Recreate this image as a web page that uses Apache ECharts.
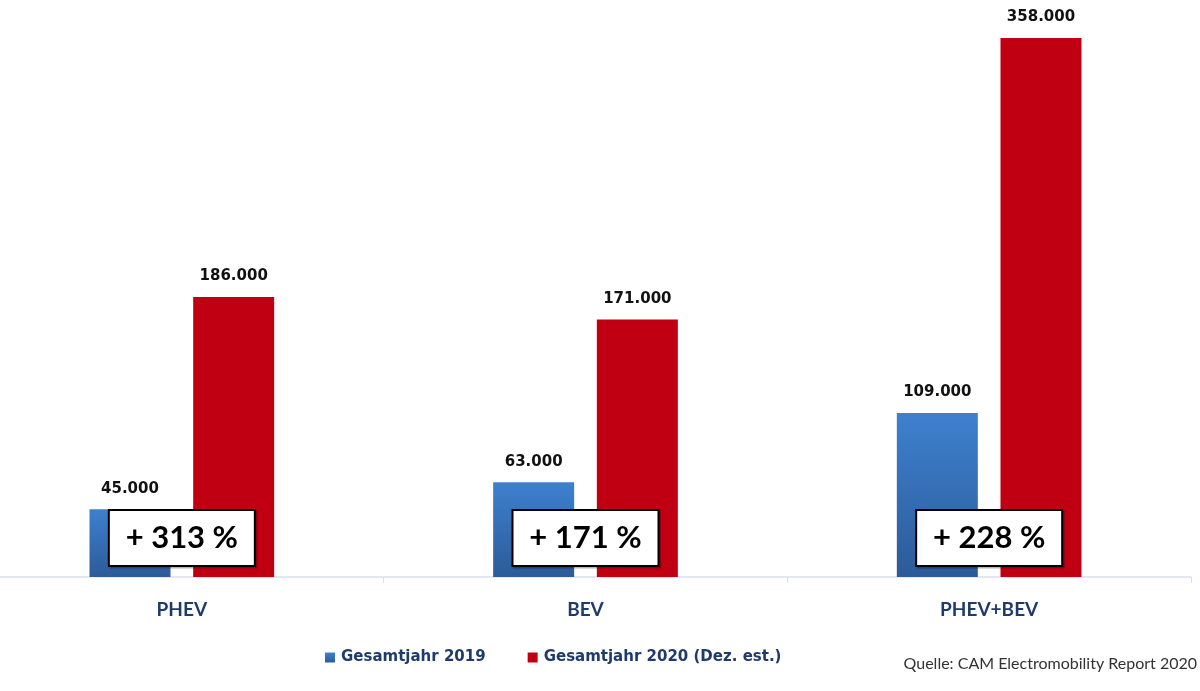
<!DOCTYPE html>
<html>
<head>
<meta charset="utf-8">
<script src="https://cdn.jsdelivr.net/npm/echarts@6/dist/echarts.min.js"></script>
<style>
html,body{margin:0;padding:0;background:#fff;overflow:hidden;}
#wrap{position:relative;width:1200px;height:691px;overflow:hidden;}
#chart{position:absolute;left:-20px;top:0;width:1220px;height:691px;}
</style>
</head>
<body>
<div id="wrap"><div id="chart"></div></div>
<script>
const categories = ['PHEV', 'BEV', 'PHEV+BEV'];
const seriesNames = ['Gesamtjahr 2019', 'Gesamtjahr 2020 (Dez. est.)'];
const values2019 = [45000, 63000, 109000];
const values2020 = [186000, 171000, 358000];
const growthLabels = ['+ 313 %', '+ 171 %', '+ 228 %'];
const sourceText = 'Quelle: CAM Electromobility Report 2020';

const fmt = v => v.toLocaleString('de-DE');

const chart = echarts.init(document.getElementById('chart'), null, {renderer: 'canvas'});

const valueLabel = {
  show: true,
  position: 'top',
  distance: 13,
  fontFamily: 'DejaVu Sans',
  fontWeight: 'bold',
  fontSize: 15,
  color: '#111',
  formatter: p => fmt(p.value)
};

chart.setOption({
  animation: false,
  backgroundColor: '#ffffff',
  grid: {left: 0, right: 9, top: 38, bottom: 114, containLabel: false},
  legend: {
    data: seriesNames,
    left: 340,
    top: 645,
    icon: 'rect',
    itemWidth: 10,
    itemHeight: 10,
    itemGap: 42,
    textStyle: {fontFamily: 'DejaVu Sans', fontWeight: 'bold', fontSize: 15, color: '#1f3b6b', padding: [0, 0, 0, 1]}
  },
  xAxis: {
    type: 'category',
    data: categories,
    axisLine: {show: true, lineStyle: {color: '#d9e0ec', width: 1.5}},
    axisTick: {show: true, length: 6, lineStyle: {color: '#d9e0ec'}},
    axisLabel: {margin: 23, fontFamily: 'Lato', fontWeight: 'bold', fontSize: 19, color: '#1f3b6b'}
  },
  yAxis: {
    type: 'value', min: 0, max: 358000, show: false, splitLine: {show: false}
  },
  series: [
    {
      name: seriesNames[0],
      type: 'bar',
      data: values2019,
      barWidth: 81,
      barGap: '28%',
      itemStyle: {
        color: new echarts.graphic.LinearGradient(0, 0, 0, 1, [
          {offset: 0, color: '#3e80cf'},
          {offset: 1, color: '#2c5b98'}
        ])
      },
      label: valueLabel
    },
    {
      name: seriesNames[1],
      type: 'bar',
      data: values2020,
      barWidth: 81,
      barGap: '28%',
      itemStyle: {color: '#c00012'},
      label: valueLabel
    },
    {
      name: 'growth',
      type: 'scatter',
      data: categories.map((c, i) => [i, 0]),
      symbolSize: 0,
      silent: true,
      z: 10,
      itemStyle: {opacity: 1},
      label: {
        show: true,
        opacity: 1,
        position: 'inside',
        offset: [0, -39],
        formatter: p => growthLabels[p.dataIndex],
        backgroundColor: '#ffffff',
        borderColor: '#000000',
        borderWidth: 2,
        width: 116,
        height: 40,
        lineHeight: 40,
        padding: [7, 14],
        align: 'center',
        verticalAlign: 'middle',
        fontFamily: 'Lato',
        fontWeight: 'bold',
        fontSize: 31,
        color: '#000',
        shadowColor: 'rgba(0,0,0,0.3)',
        shadowOffsetX: 1.5,
        shadowOffsetY: 1.5,
        shadowBlur: 1
      }
    }
  ],
  graphic: [
    {
      type: 'text',
      right: 3,
      top: 656,
      style: {text: sourceText, fontFamily: 'Lato', fontSize: 16, fill: '#333'}
    }
  ]
});
</script>
</body>
</html>
